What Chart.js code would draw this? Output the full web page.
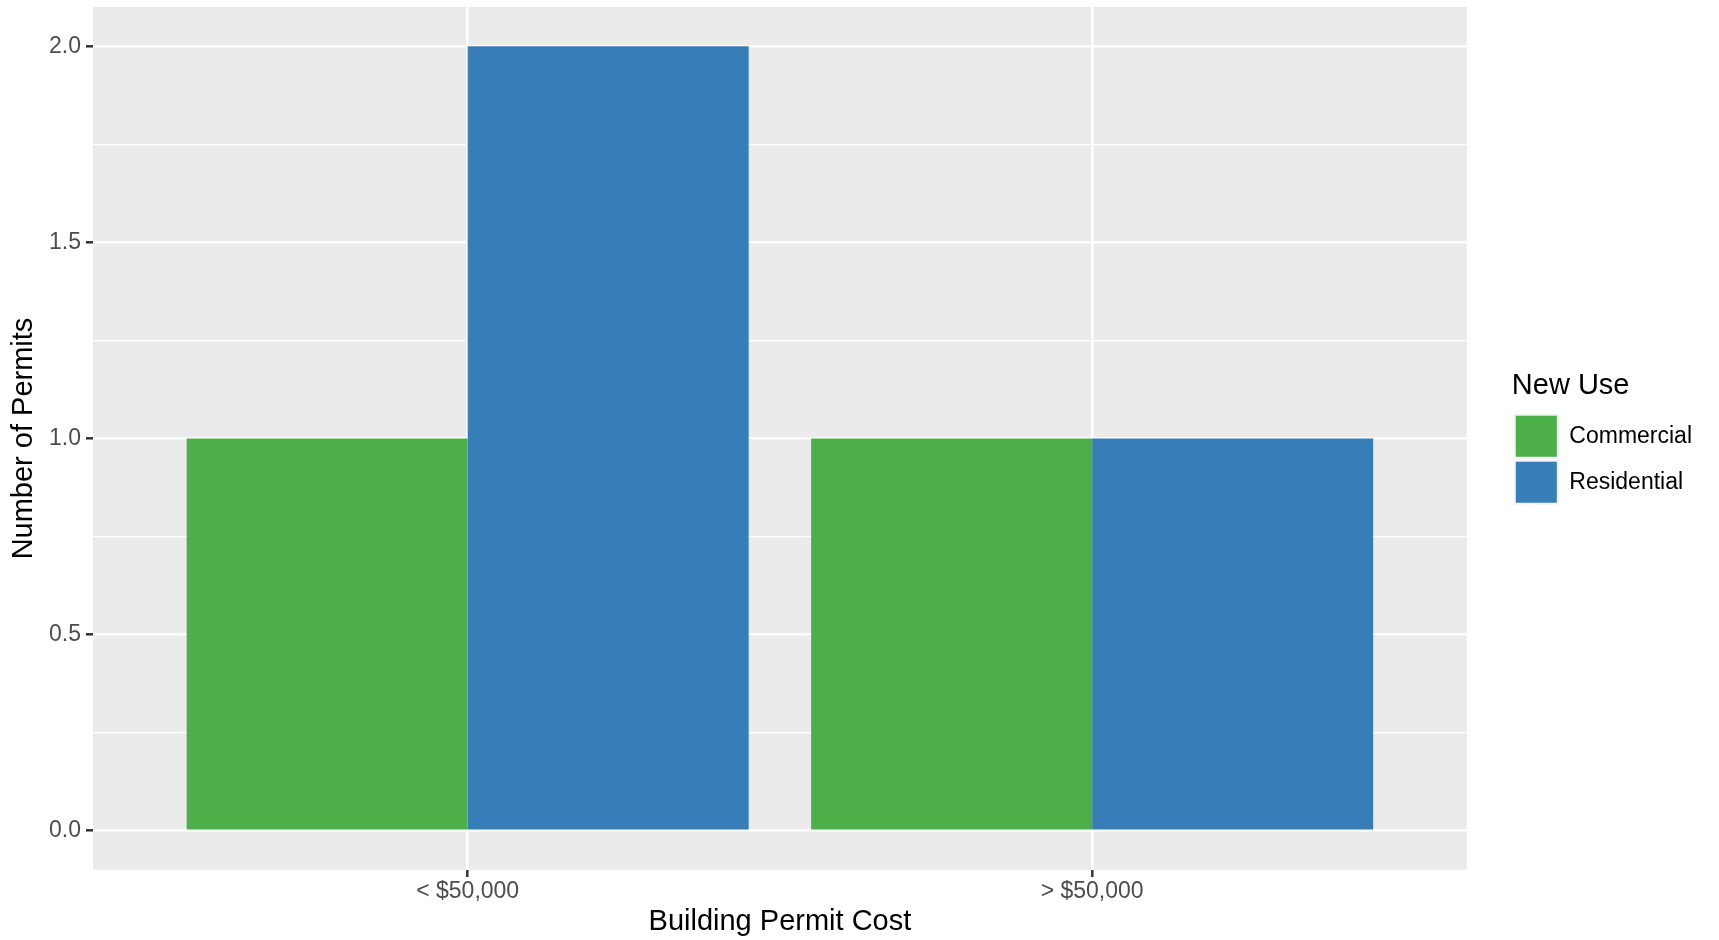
<!DOCTYPE html>
<html>
<head>
<meta charset="utf-8">
<script src="https://cdn.jsdelivr.net/npm/chart.js@4.4.1/dist/chart.umd.min.js"></script>
<style>
  html, body { margin: 0; padding: 0; background: #FFFFFF; }
  #wrap { width: 1719px; height: 940px; position: relative; }
</style>
</head>
<body>
<div id="wrap"><canvas id="c"></canvas></div>
<script>
// ---- data ----
const categories = ['< $50,000', '> $50,000'];
const seriesNames = ['Commercial', 'Residential'];
const commercial = [1, 1];
const residential = [2, 1];
const yMajorTicks = [0, 0.5, 1, 1.5, 2];
const yMinorTicks = [0.25, 0.75, 1.25, 1.75];
const yRange = [-0.1, 2.1];
const xRange = [0.4, 2.6];

const FONT = '"Liberation Sans", Arial, Helvetica, sans-serif';
const isMajor = v => yMajorTicks.some(m => Math.abs(m - v) < 1e-9);

const panelBg = {
  id: 'panelBg',
  beforeDraw(chart) {
    const a = chart.chartArea, ctx = chart.ctx;
    ctx.save();
    ctx.fillStyle = '#EBEBEB';
    ctx.fillRect(a.left, a.top, a.right - a.left, a.bottom - a.top);
    ctx.restore();
  }
};

const noPad = s => { s.paddingTop = 0; s.paddingBottom = 0; s.paddingLeft = 0; s.paddingRight = 0; };

new Chart(document.getElementById('c'), {
  type: 'bar',
  data: {
    datasets: [
      {
        label: seriesNames[0],
        data: categories.map((c, i) => ({ x: i + 1, y: commercial[i] })),
        backgroundColor: '#4DAF4A',
        borderWidth: 0
      },
      {
        label: seriesNames[1],
        data: categories.map((c, i) => ({ x: i + 1, y: residential[i] })),
        backgroundColor: '#377EB8',
        borderWidth: 0
      }
    ]
  },
  options: {
    responsive: true,
    maintainAspectRatio: false,
    animation: false,
    barPercentage: 1,
    categoryPercentage: 0.9,
    layout: { padding: { top: 7, right: 17, bottom: 0, left: 0 } },
    plugins: {
      tooltip: { enabled: false },
      legend: {
        position: 'right',
        align: 'start',
        title: {
          display: true,
          text: 'New Use',
          position: 'start',
          color: '#000000',
          font: { family: FONT, size: 29 },
          padding: { top: 364, bottom: 6 }
        },
        labels: {
          boxWidth: 43,
          boxHeight: 43,
          padding: 3,
          color: '#000000',
          font: { family: FONT, size: 23 },
          generateLabels: chart => {
            const items = Chart.defaults.plugins.legend.labels.generateLabels(chart);
            items.forEach(it => { it.strokeStyle = '#F2F2F2'; it.lineWidth = 2; });
            return items;
          }
        }
      }
    },
    scales: {
      x: {
        type: 'linear',
        min: xRange[0],
        max: xRange[1],
        offset: false,
        afterBuildTicks: s => { s.ticks = categories.map((c, i) => ({ value: i + 1 })); },
        afterFit: s => { s.height = 70; noPad(s); },
        ticks: {
          autoSkip: false,
          maxRotation: 0,
          padding: 1,
          color: '#4D4D4D',
          font: { family: FONT, size: 23 },
          callback: v => categories[Math.round(v) - 1]
        },
        grid: {
          offset: false,
          color: '#FFFFFF',
          lineWidth: 2.6,
          tickColor: '#333333',
          tickLength: 7,
          tickWidth: 2.5
        },
        border: { display: false },
        title: {
          display: true,
          text: 'Building Permit Cost',
          color: '#000000',
          font: { family: FONT, size: 29 },
          padding: { top: 0, bottom: 1 }
        }
      },
      y: {
        type: 'linear',
        min: yRange[0],
        max: yRange[1],
        afterBuildTicks: s => {
          s.ticks = yMajorTicks.concat(yMinorTicks).sort((a, b) => a - b).map(v => ({ value: v }));
        },
        afterFit: s => { s.width = 93; noPad(s); },
        ticks: {
          padding: 5,
          color: '#4D4D4D',
          font: { family: FONT, size: 23 },
          callback: v => isMajor(v) ? v.toFixed(1) : ''
        },
        grid: {
          color: '#FFFFFF',
          lineWidth: ctx => (ctx.tick && isMajor(ctx.tick.value)) ? 2.6 : 1.3,
          tickColor: ctx => (ctx.tick && isMajor(ctx.tick.value)) ? '#333333' : 'rgba(0,0,0,0)',
          tickLength: 7,
          tickWidth: 2.5
        },
        border: { display: false },
        title: {
          display: true,
          text: 'Number of Permits',
          color: '#000000',
          font: { family: FONT, size: 29 },
          padding: { top: 7, bottom: 0 }
        }
      },
      gap: {
        type: 'linear',
        position: 'right',
        display: true,
        afterFit: s => { s.width = 45; noPad(s); },
        ticks: { display: false },
        grid: { display: false, drawOnChartArea: false },
        border: { display: false },
        title: { display: false }
      }
    }
  },
  plugins: [panelBg]
});
</script>
</body>
</html>
